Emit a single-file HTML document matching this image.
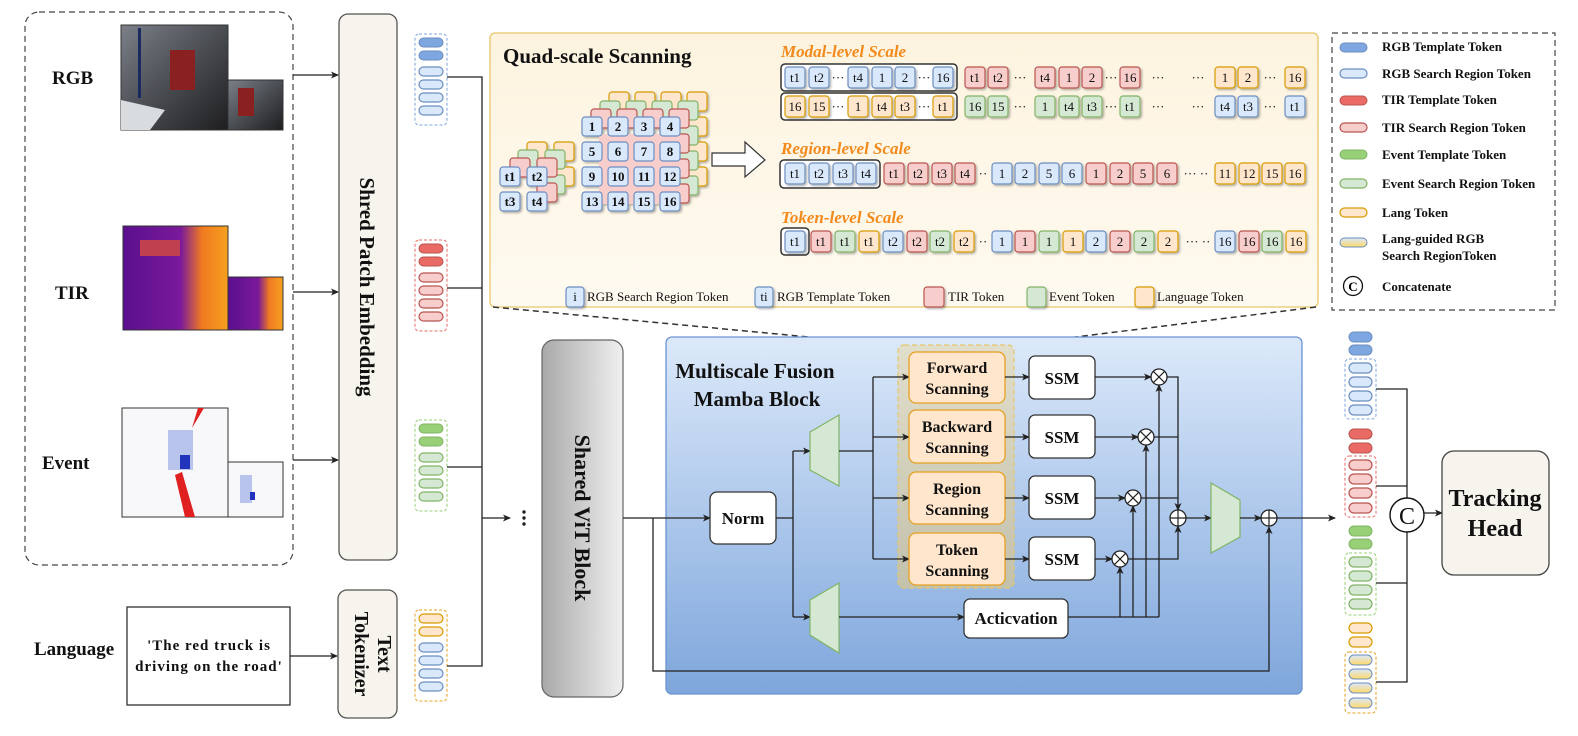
<!DOCTYPE html>
<html><head><meta charset="utf-8"><style>
html,body{margin:0;padding:0;background:#fff}
svg{display:block;font-family:"Liberation Serif",serif}
.b{fill:#dae8fc;stroke:#6c8ebf;stroke-width:1.2}
.r{fill:#f8cecc;stroke:#b85450;stroke-width:1.2}
.g{fill:#d5e8d4;stroke:#82b366;stroke-width:1.2}
.o{fill:#ffe6cc;stroke:#d79b00;stroke-width:1.2}
.bd{fill:#7ea6e0;stroke:#6c8ebf;stroke-width:1}
.rd{fill:#ea6b66;stroke:#b85450;stroke-width:1}
.gd{fill:#97d077;stroke:#82b366;stroke-width:1}
.lg{fill:url(#lgg);stroke:#6c8ebf;stroke-width:1}
.t{font-size:13px;text-anchor:middle;fill:#111}
.ln{stroke:#222;stroke-width:1.3;fill:none}
.bt{font-weight:bold}
.lt{font-size:13px;font-weight:bold;fill:#111}
.sc{font-size:17px;font-weight:bold;font-style:italic;fill:#f28a1c}
.bx{fill:#fff;stroke:#333;stroke-width:1.3}
.sb{font-size:17px;font-weight:bold;text-anchor:middle;fill:#111}
</style></head><body>
<svg width="1578" height="736" viewBox="0 0 1578 736" xmlns="http://www.w3.org/2000/svg">
<defs>
<marker id="ar" markerWidth="8" markerHeight="8" refX="7" refY="4" orient="auto" markerUnits="userSpaceOnUse"><path d="M0,0.5 L8,4 L0,7.5 L2,4z" fill="#222"/></marker>
<linearGradient id="lgg" x1="0" y1="0" x2="0" y2="1"><stop offset="0" stop-color="#dae8fc"/><stop offset="1" stop-color="#ffd966"/></linearGradient>
<linearGradient id="qg" x1="0" y1="0" x2="0" y2="1"><stop offset="0" stop-color="#fdf3df"/><stop offset="1" stop-color="#fffaf0"/></linearGradient>
<linearGradient id="mg" x1="0" y1="0" x2="0" y2="1"><stop offset="0" stop-color="#dce9fa"/><stop offset="1" stop-color="#7ea6dc"/></linearGradient>
<linearGradient id="vg" x1="0" y1="0" x2="1" y2="0"><stop offset="0" stop-color="#a9a9a9"/><stop offset="1" stop-color="#f0f0f0"/></linearGradient>
<linearGradient id="sg" x1="0" y1="0" x2="0" y2="1"><stop offset="0" stop-color="#e2ddc6"/><stop offset="1" stop-color="#c7c2a5"/></linearGradient>
<linearGradient id="rgbI" x1="0" y1="0" x2="1" y2="1"><stop offset="0" stop-color="#7c8088"/><stop offset="0.5" stop-color="#4a4d52"/><stop offset="1" stop-color="#1e1e20"/></linearGradient>
<linearGradient id="tirI" x1="0" y1="0" x2="1" y2="0"><stop offset="0" stop-color="#5a0f8e"/><stop offset="0.55" stop-color="#7a1a9a"/><stop offset="0.75" stop-color="#f07a20"/><stop offset="1" stop-color="#f6a020"/></linearGradient>
<filter id="sh" x="-20%" y="-20%" width="150%" height="150%"><feDropShadow dx="1.5" dy="1.5" stdDeviation="1" flood-opacity="0.3"/></filter>
</defs>

<rect x="25" y="12" width="268" height="553" rx="14" fill="none" stroke="#444" stroke-width="1.2" stroke-dasharray="6,4"/>
<text x="52" y="84" font-size="19" class="bt" fill="#111">RGB</text>
<text x="55" y="299" font-size="19" class="bt" fill="#111">TIR</text>
<text x="42" y="469" font-size="19" class="bt" fill="#111">Event</text>
<text x="34" y="655" font-size="19" class="bt" fill="#111">Language</text>
<rect x="121" y="25" width="107" height="105" fill="url(#rgbI)" stroke="#333"/>
<rect x="170" y="50" width="25" height="40" fill="#8a2020"/><rect x="138" y="28" width="3" height="70" fill="#1a2a60"/>
<path d="M121,100 L165,110 L150,130 L121,130z" fill="#d8dcdf"/>
<rect x="228" y="80" width="55" height="50" fill="url(#rgbI)" stroke="#333"/><rect x="238" y="88" width="16" height="28" fill="#8a2020"/>
<rect x="123" y="226" width="105" height="104" fill="url(#tirI)" stroke="#333"/>
<rect x="140" y="240" width="40" height="16" fill="#c04050"/>
<rect x="228" y="277" width="55" height="53" fill="url(#tirI)" stroke="#333"/>
<rect x="122" y="408" width="106" height="109" fill="#f8f8fb" stroke="#333"/>
<rect x="168" y="430" width="25" height="40" fill="#b8c4ec"/><rect x="180" y="455" width="10" height="14" fill="#2233bb"/>
<path d="M175,475 L185,517 L195,517 L182,472z" fill="#e02020"/><path d="M198,408 L204,408 L192,428z" fill="#e02020"/>
<rect x="228" y="462" width="55" height="55" fill="#f8f8fb" stroke="#333"/><rect x="240" y="475" width="12" height="28" fill="#b8c4ec"/><rect x="250" y="492" width="5" height="8" fill="#2233bb"/>
<line x1="293" y1="75" x2="338" y2="75" class="ln" marker-end="url(#ar)"/>
<line x1="293" y1="292" x2="338" y2="292" class="ln" marker-end="url(#ar)"/>
<line x1="293" y1="460" x2="338" y2="460" class="ln" marker-end="url(#ar)"/>
<rect x="339" y="14" width="58" height="546" rx="9" fill="#f6f4ec" stroke="#555" stroke-width="1.3"/>
<text transform="translate(360,287) rotate(90)" font-size="21" class="bt" text-anchor="middle" fill="#111">Shred Patch Embedding</text>
<rect x="127" y="607" width="163" height="98" fill="#fff" stroke="#333" stroke-width="1.3"/>
<text x="209" y="650" font-size="15" class="bt" text-anchor="middle" letter-spacing="1" fill="#111">'The red truck is</text>
<text x="209" y="671" font-size="15" class="bt" text-anchor="middle" letter-spacing="1" fill="#111">driving on the road'</text>
<line x1="290" y1="656" x2="337" y2="656" class="ln" marker-end="url(#ar)"/>
<rect x="338" y="590" width="59" height="128" rx="9" fill="#f6f4ec" stroke="#555" stroke-width="1.3"/>
<text transform="translate(378,654) rotate(90)" font-size="20" class="bt" text-anchor="middle" fill="#111">Text</text>
<text transform="translate(355,654) rotate(90)" font-size="20" class="bt" text-anchor="middle" fill="#111">Tokenizer</text>

<g>
<rect x="415" y="34" width="32" height="91" rx="4" fill="none" stroke="#7ea6e0" stroke-dasharray="3,2"/>
<rect x="419" y="38" width="24" height="9" rx="4.5" class="bd"/><rect x="419" y="51" width="24" height="9" rx="4.5" class="bd"/>
<rect x="419" y="67" width="24" height="9" rx="4.5" class="b"/><rect x="419" y="80" width="24" height="9" rx="4.5" class="b"/><rect x="419" y="93" width="24" height="9" rx="4.5" class="b"/><rect x="419" y="106" width="24" height="9" rx="4.5" class="b"/>
<rect x="415" y="240" width="32" height="91" rx="4" fill="none" stroke="#ea6b66" stroke-dasharray="3,2"/>
<rect x="419" y="244" width="24" height="9" rx="4.5" class="rd"/><rect x="419" y="257" width="24" height="9" rx="4.5" class="rd"/>
<rect x="419" y="273" width="24" height="9" rx="4.5" class="r"/><rect x="419" y="286" width="24" height="9" rx="4.5" class="r"/><rect x="419" y="299" width="24" height="9" rx="4.5" class="r"/><rect x="419" y="312" width="24" height="9" rx="4.5" class="r"/>
<rect x="415" y="420" width="32" height="91" rx="4" fill="none" stroke="#97d077" stroke-dasharray="3,2"/>
<rect x="419" y="424" width="24" height="9" rx="4.5" class="gd"/><rect x="419" y="437" width="24" height="9" rx="4.5" class="gd"/>
<rect x="419" y="453" width="24" height="9" rx="4.5" class="g"/><rect x="419" y="466" width="24" height="9" rx="4.5" class="g"/><rect x="419" y="479" width="24" height="9" rx="4.5" class="g"/><rect x="419" y="492" width="24" height="9" rx="4.5" class="g"/>
<rect x="415" y="610" width="32" height="91" rx="4" fill="none" stroke="#e8a020" stroke-dasharray="3,2"/>
<rect x="419" y="614" width="24" height="9" rx="4.5" class="o"/><rect x="419" y="627" width="24" height="9" rx="4.5" class="o"/>
<rect x="419" y="643" width="24" height="9" rx="4.5" class="b"/><rect x="419" y="656" width="24" height="9" rx="4.5" class="b"/><rect x="419" y="669" width="24" height="9" rx="4.5" class="b"/><rect x="419" y="682" width="24" height="9" rx="4.5" class="b"/>
</g>
<polyline points="447,77 482,77 482,666 447,666" class="ln"/>
<line x1="447" y1="288" x2="482" y2="288" class="ln"/>
<line x1="447" y1="467" x2="482" y2="467" class="ln"/>
<line x1="482" y1="518" x2="510" y2="518" class="ln" marker-end="url(#ar)"/>
<circle cx="524" cy="512" r="1.7" fill="#222"/><circle cx="524" cy="518" r="1.7" fill="#222"/><circle cx="524" cy="524" r="1.7" fill="#222"/>

<rect x="490" y="33" width="828" height="274" rx="5" fill="url(#qg)" stroke="#e8c66a" stroke-width="1.3"/>
<line x1="493" y1="307" x2="893" y2="345" stroke="#333" stroke-width="1.5" stroke-dasharray="6,4"/>
<line x1="1316" y1="307" x2="1012" y2="345" stroke="#333" stroke-width="1.5" stroke-dasharray="6,4"/>
<text x="503" y="63" font-size="21" class="bt" fill="#111">Quad-scale Scanning</text>

<g filter="url(#sh)">
<g transform="translate(27,-25)"><rect x="582" y="117" width="20" height="19" rx="3" class="o"/><rect x="608" y="117" width="20" height="19" rx="3" class="o"/><rect x="634" y="117" width="20" height="19" rx="3" class="o"/><rect x="660" y="117" width="20" height="19" rx="3" class="o"/><rect x="660" y="142" width="20" height="19" rx="3" class="o"/><rect x="660" y="167" width="20" height="19" rx="3" class="o"/><rect x="660" y="192" width="20" height="19" rx="3" class="o"/></g>
<g transform="translate(18,-16)"><rect x="582" y="117" width="20" height="19" rx="3" class="g"/><rect x="608" y="117" width="20" height="19" rx="3" class="g"/><rect x="634" y="117" width="20" height="19" rx="3" class="g"/><rect x="660" y="117" width="20" height="19" rx="3" class="g"/><rect x="660" y="142" width="20" height="19" rx="3" class="g"/><rect x="660" y="167" width="20" height="19" rx="3" class="g"/><rect x="660" y="192" width="20" height="19" rx="3" class="g"/></g>
<g transform="translate(9,-8)"><rect x="582" y="117" width="20" height="19" rx="3" class="r"/><rect x="608" y="117" width="20" height="19" rx="3" class="r"/><rect x="634" y="117" width="20" height="19" rx="3" class="r"/><rect x="660" y="117" width="20" height="19" rx="3" class="r"/><rect x="660" y="142" width="20" height="19" rx="3" class="r"/><rect x="660" y="167" width="20" height="19" rx="3" class="r"/><rect x="660" y="192" width="20" height="19" rx="3" class="r"/><rect x="590" y="142" width="80" height="70" fill="#f8cecc"/></g>
<rect x="582" y="117" width="20" height="19" rx="3" class="b"/><rect x="608" y="117" width="20" height="19" rx="3" class="b"/><rect x="634" y="117" width="20" height="19" rx="3" class="b"/><rect x="660" y="117" width="20" height="19" rx="3" class="b"/>
<rect x="582" y="142" width="20" height="19" rx="3" class="b"/><rect x="608" y="142" width="20" height="19" rx="3" class="b"/><rect x="634" y="142" width="20" height="19" rx="3" class="b"/><rect x="660" y="142" width="20" height="19" rx="3" class="b"/>
<rect x="582" y="167" width="20" height="19" rx="3" class="b"/><rect x="608" y="167" width="20" height="19" rx="3" class="b"/><rect x="634" y="167" width="20" height="19" rx="3" class="b"/><rect x="660" y="167" width="20" height="19" rx="3" class="b"/>
<rect x="582" y="192" width="20" height="19" rx="3" class="b"/><rect x="608" y="192" width="20" height="19" rx="3" class="b"/><rect x="634" y="192" width="20" height="19" rx="3" class="b"/><rect x="660" y="192" width="20" height="19" rx="3" class="b"/>
</g>
<g font-weight="bold">
<text x="592" y="131" class="t">1</text><text x="618" y="131" class="t">2</text><text x="644" y="131" class="t">3</text><text x="670" y="131" class="t">4</text>
<text x="592" y="156" class="t">5</text><text x="618" y="156" class="t">6</text><text x="644" y="156" class="t">7</text><text x="670" y="156" class="t">8</text>
<text x="592" y="181" class="t">9</text><text x="618" y="181" class="t">10</text><text x="644" y="181" class="t">11</text><text x="670" y="181" class="t">12</text>
<text x="592" y="206" class="t">13</text><text x="618" y="206" class="t">14</text><text x="644" y="206" class="t">15</text><text x="670" y="206" class="t">16</text>
</g>
<g filter="url(#sh)">
<rect x="527" y="142" width="20" height="19" rx="3" class="o"/><rect x="554" y="142" width="20" height="19" rx="3" class="o"/><rect x="554" y="167" width="20" height="19" rx="3" class="o"/>
<rect x="518" y="150" width="20" height="19" rx="3" class="g"/><rect x="545" y="150" width="20" height="19" rx="3" class="g"/><rect x="545" y="175" width="20" height="19" rx="3" class="g"/>
<rect x="510" y="158" width="20" height="19" rx="3" class="r"/><rect x="537" y="158" width="20" height="19" rx="3" class="r"/><rect x="537" y="183" width="20" height="19" rx="3" class="r"/>
<rect x="500" y="167" width="20" height="19" rx="3" class="b"/><rect x="527" y="167" width="20" height="19" rx="3" class="b"/>
<rect x="500" y="192" width="20" height="19" rx="3" class="b"/><rect x="527" y="192" width="20" height="19" rx="3" class="b"/>
</g>
<g font-weight="bold"><text x="510" y="181" class="t">t1</text><text x="537" y="181" class="t">t2</text><text x="510" y="206" class="t">t3</text><text x="537" y="206" class="t">t4</text></g>
<path d="M712,153 L745,153 L745,142 L765,160 L745,177 L745,166 L712,166z" fill="#fff" stroke="#333" stroke-width="1.2"/>

<text x="781" y="57" class="sc">Modal-level Scale</text>
<text x="781" y="154" class="sc">Region-level Scale</text>
<text x="781" y="223" class="sc">Token-level Scale</text>

<rect x="781" y="64" width="176" height="27" rx="4" fill="#fff" stroke="#333" stroke-width="1.5"/>
<g filter="url(#sh)">
<rect x="785" y="67" width="20" height="21" rx="3" class="b"/><rect x="809" y="67" width="20" height="21" rx="3" class="b"/><rect x="848" y="67" width="20" height="21" rx="3" class="b"/><rect x="872" y="67" width="20" height="21" rx="3" class="b"/><rect x="895" y="67" width="20" height="21" rx="3" class="b"/><rect x="933" y="67" width="20" height="21" rx="3" class="b"/>
<rect x="965" y="67" width="20" height="21" rx="3" class="r"/><rect x="988" y="67" width="20" height="21" rx="3" class="r"/><rect x="1035" y="67" width="20" height="21" rx="3" class="r"/><rect x="1059" y="67" width="20" height="21" rx="3" class="r"/><rect x="1082" y="67" width="20" height="21" rx="3" class="r"/><rect x="1120" y="67" width="20" height="21" rx="3" class="r"/>
<rect x="1215" y="67" width="20" height="21" rx="3" class="o"/><rect x="1238" y="67" width="20" height="21" rx="3" class="o"/><rect x="1285" y="67" width="20" height="21" rx="3" class="o"/>
</g>
<g>
<text x="795" y="82" class="t">t1</text><text x="819" y="82" class="t">t2</text><text x="838" y="82" class="t">···</text><text x="858" y="82" class="t">t4</text><text x="882" y="82" class="t">1</text><text x="905" y="82" class="t">2</text><text x="924" y="82" class="t">···</text><text x="943" y="82" class="t">16</text>
<text x="975" y="82" class="t">t1</text><text x="998" y="82" class="t">t2</text><text x="1020" y="82" class="t">···</text><text x="1045" y="82" class="t">t4</text><text x="1069" y="82" class="t">1</text><text x="1092" y="82" class="t">2</text><text x="1111" y="82" class="t">···</text><text x="1130" y="82" class="t">16</text>
<text x="1158" y="82" class="t">···</text><text x="1198" y="82" class="t">···</text>
<text x="1225" y="82" class="t">1</text><text x="1248" y="82" class="t">2</text><text x="1270" y="82" class="t">···</text><text x="1295" y="82" class="t">16</text>
</g>
<rect x="781" y="93" width="176" height="27" rx="4" fill="#fff" stroke="#333" stroke-width="1.5"/>
<g filter="url(#sh)">
<rect x="785" y="96" width="20" height="21" rx="3" class="o"/><rect x="809" y="96" width="20" height="21" rx="3" class="o"/><rect x="848" y="96" width="20" height="21" rx="3" class="o"/><rect x="872" y="96" width="20" height="21" rx="3" class="o"/><rect x="895" y="96" width="20" height="21" rx="3" class="o"/><rect x="933" y="96" width="20" height="21" rx="3" class="o"/>
<rect x="965" y="96" width="20" height="21" rx="3" class="g"/><rect x="988" y="96" width="20" height="21" rx="3" class="g"/><rect x="1035" y="96" width="20" height="21" rx="3" class="g"/><rect x="1059" y="96" width="20" height="21" rx="3" class="g"/><rect x="1082" y="96" width="20" height="21" rx="3" class="g"/><rect x="1120" y="96" width="20" height="21" rx="3" class="g"/>
<rect x="1215" y="96" width="20" height="21" rx="3" class="b"/><rect x="1238" y="96" width="20" height="21" rx="3" class="b"/><rect x="1285" y="96" width="20" height="21" rx="3" class="b"/>
</g>
<g>
<text x="795" y="111" class="t">16</text><text x="819" y="111" class="t">15</text><text x="838" y="111" class="t">···</text><text x="858" y="111" class="t">1</text><text x="882" y="111" class="t">t4</text><text x="905" y="111" class="t">t3</text><text x="924" y="111" class="t">···</text><text x="943" y="111" class="t">t1</text>
<text x="975" y="111" class="t">16</text><text x="998" y="111" class="t">15</text><text x="1020" y="111" class="t">···</text><text x="1045" y="111" class="t">1</text><text x="1069" y="111" class="t">t4</text><text x="1092" y="111" class="t">t3</text><text x="1111" y="111" class="t">···</text><text x="1130" y="111" class="t">t1</text>
<text x="1158" y="111" class="t">···</text><text x="1198" y="111" class="t">···</text>
<text x="1225" y="111" class="t">t4</text><text x="1248" y="111" class="t">t3</text><text x="1270" y="111" class="t">···</text><text x="1295" y="111" class="t">t1</text>
</g>
<rect x="780" y="160" width="100" height="28" rx="4" fill="#fff" stroke="#333" stroke-width="1.5"/>
<g filter="url(#sh)">
<rect x="785" y="163" width="20" height="21" rx="3" class="b"/><rect x="809" y="163" width="20" height="21" rx="3" class="b"/><rect x="833" y="163" width="20" height="21" rx="3" class="b"/><rect x="856" y="163" width="20" height="21" rx="3" class="b"/>
<rect x="884" y="163" width="20" height="21" rx="3" class="r"/><rect x="908" y="163" width="20" height="21" rx="3" class="r"/><rect x="932" y="163" width="20" height="21" rx="3" class="r"/><rect x="955" y="163" width="20" height="21" rx="3" class="r"/>
<rect x="992" y="163" width="20" height="21" rx="3" class="b"/><rect x="1015" y="163" width="20" height="21" rx="3" class="b"/><rect x="1039" y="163" width="20" height="21" rx="3" class="b"/><rect x="1062" y="163" width="20" height="21" rx="3" class="b"/>
<rect x="1086" y="163" width="20" height="21" rx="3" class="r"/><rect x="1110" y="163" width="20" height="21" rx="3" class="r"/><rect x="1133" y="163" width="20" height="21" rx="3" class="r"/><rect x="1157" y="163" width="20" height="21" rx="3" class="r"/>
<rect x="1215" y="163" width="20" height="21" rx="3" class="o"/><rect x="1239" y="163" width="20" height="21" rx="3" class="o"/><rect x="1262" y="163" width="20" height="21" rx="3" class="o"/><rect x="1285" y="163" width="20" height="21" rx="3" class="o"/>
</g>
<g>
<text x="795" y="178" class="t">t1</text><text x="819" y="178" class="t">t2</text><text x="843" y="178" class="t">t3</text><text x="866" y="178" class="t">t4</text>
<text x="894" y="178" class="t">t1</text><text x="918" y="178" class="t">t2</text><text x="942" y="178" class="t">t3</text><text x="965" y="178" class="t">t4</text><text x="983" y="178" class="t">··</text>
<text x="1002" y="178" class="t">1</text><text x="1025" y="178" class="t">2</text><text x="1049" y="178" class="t">5</text><text x="1072" y="178" class="t">6</text>
<text x="1096" y="178" class="t">1</text><text x="1120" y="178" class="t">2</text><text x="1143" y="178" class="t">5</text><text x="1167" y="178" class="t">6</text><text x="1196" y="178" class="t">··· ··</text>
<text x="1225" y="178" class="t">11</text><text x="1249" y="178" class="t">12</text><text x="1272" y="178" class="t">15</text><text x="1295" y="178" class="t">16</text>
</g>
<rect x="781" y="228" width="28" height="27" rx="4" fill="#fff" stroke="#333" stroke-width="1.5"/>
<g filter="url(#sh)">
<rect x="785" y="231" width="20" height="21" rx="3" class="b"/><rect x="811" y="231" width="20" height="21" rx="3" class="r"/><rect x="835" y="231" width="20" height="21" rx="3" class="g"/><rect x="859" y="231" width="20" height="21" rx="3" class="o"/>
<rect x="883" y="231" width="20" height="21" rx="3" class="b"/><rect x="907" y="231" width="20" height="21" rx="3" class="r"/><rect x="930" y="231" width="20" height="21" rx="3" class="g"/><rect x="954" y="231" width="20" height="21" rx="3" class="o"/>
<rect x="992" y="231" width="20" height="21" rx="3" class="b"/><rect x="1015" y="231" width="20" height="21" rx="3" class="r"/><rect x="1039" y="231" width="20" height="21" rx="3" class="g"/><rect x="1063" y="231" width="20" height="21" rx="3" class="o"/>
<rect x="1086" y="231" width="20" height="21" rx="3" class="b"/><rect x="1110" y="231" width="20" height="21" rx="3" class="r"/><rect x="1134" y="231" width="20" height="21" rx="3" class="g"/><rect x="1158" y="231" width="20" height="21" rx="3" class="o"/>
<rect x="1215" y="231" width="20" height="21" rx="3" class="b"/><rect x="1239" y="231" width="20" height="21" rx="3" class="r"/><rect x="1262" y="231" width="20" height="21" rx="3" class="g"/><rect x="1286" y="231" width="20" height="21" rx="3" class="o"/>
</g>
<g>
<text x="795" y="246" class="t">t1</text><text x="821" y="246" class="t">t1</text><text x="845" y="246" class="t">t1</text><text x="869" y="246" class="t">t1</text>
<text x="893" y="246" class="t">t2</text><text x="917" y="246" class="t">t2</text><text x="940" y="246" class="t">t2</text><text x="964" y="246" class="t">t2</text><text x="983" y="246" class="t">··</text>
<text x="1002" y="246" class="t">1</text><text x="1025" y="246" class="t">1</text><text x="1049" y="246" class="t">1</text><text x="1073" y="246" class="t">1</text>
<text x="1096" y="246" class="t">2</text><text x="1120" y="246" class="t">2</text><text x="1144" y="246" class="t">2</text><text x="1168" y="246" class="t">2</text><text x="1198" y="246" class="t">··· ··</text>
<text x="1225" y="246" class="t">16</text><text x="1249" y="246" class="t">16</text><text x="1272" y="246" class="t">16</text><text x="1296" y="246" class="t">16</text>
</g>
<g filter="url(#sh)">
<rect x="566" y="287" width="18" height="20" rx="3" class="b"/><rect x="755" y="287" width="18" height="20" rx="3" class="b"/><rect x="924" y="287" width="20" height="20" rx="3" class="r"/><rect x="1027" y="287" width="19" height="20" rx="3" class="g"/><rect x="1135" y="287" width="19" height="20" rx="3" class="o"/>
</g>
<text x="575" y="301" class="t">i</text><text x="764" y="301" class="t">ti</text>
<text x="587" y="301" font-size="13" fill="#111">RGB Search Region Token</text>
<text x="777" y="301" font-size="13" fill="#111">RGB Template Token</text>
<text x="948" y="301" font-size="13" fill="#111">TIR Token</text>
<text x="1049" y="301" font-size="13" fill="#111">Event Token</text>
<text x="1157" y="301" font-size="13" fill="#111">Language Token</text>

<rect x="1332" y="33" width="223" height="277" fill="#fff" stroke="#444" stroke-width="1.2" stroke-dasharray="6,4"/>
<rect x="1340" y="43" width="27" height="9" rx="4.5" class="bd"/><text x="1382" y="51" class="lt">RGB Template Token</text>
<rect x="1340" y="69" width="27" height="9" rx="4.5" class="b"/><text x="1382" y="78" class="lt">RGB Search Region Token</text>
<rect x="1340" y="96" width="27" height="9" rx="4.5" class="rd"/><text x="1382" y="104" class="lt">TIR Template Token</text>
<rect x="1340" y="123" width="27" height="9" rx="4.5" class="r"/><text x="1382" y="132" class="lt">TIR Search Region Token</text>
<rect x="1340" y="150" width="27" height="9" rx="4.5" class="gd"/><text x="1382" y="159" class="lt">Event Template Token</text>
<rect x="1340" y="179" width="27" height="9" rx="4.5" class="g"/><text x="1382" y="188" class="lt">Event Search Region Token</text>
<rect x="1340" y="208" width="27" height="9" rx="4.5" class="o"/><text x="1382" y="217" class="lt">Lang Token</text>
<rect x="1340" y="238" width="27" height="9" rx="4.5" class="lg"/><text x="1382" y="243" class="lt">Lang-guided RGB</text><text x="1382" y="260" class="lt">Search RegionToken</text>
<circle cx="1353" cy="286" r="9.5" fill="#fff" stroke="#111" stroke-width="1.3"/><text x="1353" y="291" font-size="13" class="bt" text-anchor="middle">C</text><text x="1382" y="291" class="lt">Concatenate</text>

<rect x="542" y="340" width="81" height="357" rx="12" fill="url(#vg)" stroke="#666" stroke-width="1.2"/>
<text transform="translate(575,518) rotate(90)" font-size="22" class="bt" text-anchor="middle" fill="#111">Shared  ViT  Block</text>

<rect x="666" y="337" width="636" height="357" rx="6" fill="url(#mg)" stroke="#6a95d0" stroke-width="1.3"/>
<text x="755" y="378" font-size="21" class="bt" text-anchor="middle" fill="#111">Multiscale Fusion</text>
<text x="757" y="406" font-size="21" class="bt" text-anchor="middle" fill="#111">Mamba Block</text>
<rect x="898" y="345" width="116" height="243" rx="6" fill="url(#sg)" fill-opacity="0.9" stroke="#e8c66a" stroke-dasharray="5,3" stroke-width="1.2"/>

<line x1="623" y1="518" x2="710" y2="518" class="ln" marker-end="url(#ar)"/>
<polyline points="653,518 653,671 1269,671 1269,527" class="ln" marker-end="url(#ar)"/>
<rect x="710" y="492" width="66" height="52" rx="7" class="bx"/><text x="743" y="524" class="sb">Norm</text>
<polyline points="776,518 793,518" class="ln"/>
<line x1="793" y1="451" x2="793" y2="617" class="ln"/>
<line x1="793" y1="451" x2="810" y2="451" class="ln" marker-end="url(#ar)"/>
<line x1="793" y1="617" x2="810" y2="617" class="ln" marker-end="url(#ar)"/>
<polygon points="810,432 839,415 839,486 810,470" fill="#d5e8d4" stroke="#82b366" stroke-width="1.2"/>
<polygon points="810,600 839,583 839,653 810,635" fill="#d5e8d4" stroke="#82b366" stroke-width="1.2"/>
<line x1="839" y1="451" x2="873" y2="451" class="ln"/>
<line x1="873" y1="377" x2="873" y2="559" class="ln"/>
<line x1="873" y1="377" x2="909" y2="377" class="ln" marker-end="url(#ar)"/>
<line x1="873" y1="437" x2="909" y2="437" class="ln" marker-end="url(#ar)"/>
<line x1="873" y1="498" x2="909" y2="498" class="ln" marker-end="url(#ar)"/>
<line x1="873" y1="559" x2="909" y2="559" class="ln" marker-end="url(#ar)"/>
<line x1="839" y1="617" x2="964" y2="617" class="ln" marker-end="url(#ar)"/>

<g font-size="16" class="bt" text-anchor="middle" fill="#111">
<rect x="909" y="352" width="96" height="51" rx="7" fill="#ffe6cc" stroke="#e8a020" stroke-width="1.3"/><text x="957" y="373">Forward</text><text x="957" y="394">Scanning</text>
<rect x="909" y="410" width="96" height="53" rx="7" fill="#ffe6cc" stroke="#e8a020" stroke-width="1.3"/><text x="957" y="432">Backward</text><text x="957" y="453">Scanning</text>
<rect x="909" y="472" width="96" height="52" rx="7" fill="#ffe6cc" stroke="#e8a020" stroke-width="1.3"/><text x="957" y="494">Region</text><text x="957" y="515">Scanning</text>
<rect x="909" y="533" width="96" height="52" rx="7" fill="#ffe6cc" stroke="#e8a020" stroke-width="1.3"/><text x="957" y="555">Token</text><text x="957" y="576">Scanning</text>
</g>
<line x1="1005" y1="377" x2="1029" y2="377" class="ln" marker-end="url(#ar)"/>
<line x1="1005" y1="437" x2="1029" y2="437" class="ln" marker-end="url(#ar)"/>
<line x1="1005" y1="498" x2="1029" y2="498" class="ln" marker-end="url(#ar)"/>
<line x1="1005" y1="559" x2="1029" y2="559" class="ln" marker-end="url(#ar)"/>
<rect x="1029" y="356" width="66" height="43" rx="6" class="bx"/><text x="1062" y="384" class="sb">SSM</text>
<rect x="1029" y="415" width="66" height="43" rx="6" class="bx"/><text x="1062" y="443" class="sb">SSM</text>
<rect x="1029" y="476" width="66" height="43" rx="6" class="bx"/><text x="1062" y="504" class="sb">SSM</text>
<rect x="1029" y="537" width="66" height="43" rx="6" class="bx"/><text x="1062" y="565" class="sb">SSM</text>
<rect x="964" y="599" width="104" height="39" rx="6" class="bx"/><text x="1016" y="624" class="sb">Acticvation</text>

<line x1="1095" y1="377" x2="1151" y2="377" class="ln" marker-end="url(#ar)"/>
<line x1="1095" y1="437" x2="1138" y2="437" class="ln" marker-end="url(#ar)"/>
<line x1="1095" y1="498" x2="1125" y2="498" class="ln" marker-end="url(#ar)"/>
<line x1="1095" y1="559" x2="1112" y2="559" class="ln" marker-end="url(#ar)"/>
<polyline points="1068,617 1159,617" class="ln"/>
<line x1="1120" y1="617" x2="1120" y2="567" class="ln" marker-end="url(#ar)"/>
<line x1="1133" y1="617" x2="1133" y2="506" class="ln" marker-end="url(#ar)"/>
<line x1="1146" y1="617" x2="1146" y2="445" class="ln" marker-end="url(#ar)"/>
<line x1="1159" y1="617" x2="1159" y2="385" class="ln" marker-end="url(#ar)"/>
<polyline points="1167,377 1178,377 1178,510" class="ln" marker-end="url(#ar)"/>
<line x1="1154" y1="437" x2="1178" y2="437" class="ln"/>
<line x1="1141" y1="498" x2="1178" y2="498" class="ln"/>
<polyline points="1128,559 1178,559 1178,526" class="ln" marker-end="url(#ar)"/>
<g fill="#fff" stroke="#222" stroke-width="1.3">
<circle cx="1159" cy="377" r="8"/><circle cx="1146" cy="437" r="8"/><circle cx="1133" cy="498" r="8"/><circle cx="1120" cy="559" r="8"/>
<circle cx="1178" cy="518" r="8"/><circle cx="1269" cy="518" r="8"/>
</g>
<g stroke="#222" stroke-width="1.2">
<path d="M1153.3,371.3 L1164.7,382.7 M1164.7,371.3 L1153.3,382.7"/>
<path d="M1140.3,431.3 L1151.7,442.7 M1151.7,431.3 L1140.3,442.7"/>
<path d="M1127.3,492.3 L1138.7,503.7 M1138.7,492.3 L1127.3,503.7"/>
<path d="M1114.3,553.3 L1125.7,564.7 M1125.7,553.3 L1114.3,564.7"/>
<path d="M1170,518 L1186,518 M1178,510 L1178,526"/>
<path d="M1261,518 L1277,518 M1269,510 L1269,526"/>
</g>
<line x1="1186" y1="518" x2="1211" y2="518" class="ln" marker-end="url(#ar)"/>
<polygon points="1211,483 1240,500 1240,537 1211,553" fill="#d5e8d4" stroke="#82b366" stroke-width="1.2"/>
<line x1="1240" y1="518" x2="1261" y2="518" class="ln" marker-end="url(#ar)"/>
<line x1="1277" y1="518" x2="1335" y2="518" class="ln" marker-end="url(#ar)"/>

<g>
<rect x="1349" y="332" width="23" height="10" rx="5" class="bd"/><rect x="1349" y="345" width="23" height="10" rx="5" class="bd"/>
<rect x="1345" y="359" width="31" height="60" rx="4" fill="none" stroke="#7ea6e0" stroke-dasharray="3,2"/>
<rect x="1349" y="363" width="23" height="10" rx="5" class="b"/><rect x="1349" y="377" width="23" height="10" rx="5" class="b"/><rect x="1349" y="391" width="23" height="10" rx="5" class="b"/><rect x="1349" y="405" width="23" height="10" rx="5" class="b"/>
<rect x="1349" y="429" width="23" height="10" rx="5" class="rd"/><rect x="1349" y="443" width="23" height="10" rx="5" class="rd"/>
<rect x="1345" y="456" width="31" height="61" rx="4" fill="none" stroke="#ea6b66" stroke-dasharray="3,2"/>
<rect x="1349" y="460" width="23" height="10" rx="5" class="r"/><rect x="1349" y="474" width="23" height="10" rx="5" class="r"/><rect x="1349" y="488" width="23" height="10" rx="5" class="r"/><rect x="1349" y="503" width="23" height="10" rx="5" class="r"/>
<rect x="1349" y="526" width="23" height="10" rx="5" class="gd"/><rect x="1349" y="539" width="23" height="10" rx="5" class="gd"/>
<rect x="1345" y="553" width="31" height="62" rx="4" fill="none" stroke="#97d077" stroke-dasharray="3,2"/>
<rect x="1349" y="557" width="23" height="10" rx="5" class="g"/><rect x="1349" y="571" width="23" height="10" rx="5" class="g"/><rect x="1349" y="585" width="23" height="10" rx="5" class="g"/><rect x="1349" y="599" width="23" height="10" rx="5" class="g"/>
<rect x="1349" y="623" width="23" height="10" rx="5" class="o"/><rect x="1349" y="637" width="23" height="10" rx="5" class="o"/>
<rect x="1345" y="652" width="31" height="61" rx="4" fill="none" stroke="#e8a020" stroke-dasharray="3,2"/>
<rect x="1349" y="655" width="23" height="10" rx="5" class="lg"/><rect x="1349" y="669" width="23" height="10" rx="5" class="lg"/><rect x="1349" y="683" width="23" height="10" rx="5" class="lg"/><rect x="1349" y="698" width="23" height="10" rx="5" class="lg"/>
</g>
<polyline points="1376,389 1407,389 1407,682 1376,682" class="ln"/>
<line x1="1376" y1="486" x2="1407" y2="486" class="ln"/>
<line x1="1376" y1="583" x2="1407" y2="583" class="ln"/>
<circle cx="1407" cy="515" r="17" fill="#fff" stroke="#111" stroke-width="1.4"/>
<text x="1407" y="524" font-size="24" text-anchor="middle" fill="#111">C</text>
<line x1="1424" y1="513" x2="1442" y2="513" class="ln" marker-end="url(#ar)"/>
<rect x="1442" y="451" width="107" height="124" rx="12" fill="#f6f4ec" stroke="#444" stroke-width="1.3"/>
<text x="1495" y="506" font-size="24" class="bt" text-anchor="middle" fill="#111">Tracking</text>
<text x="1495" y="536" font-size="24" class="bt" text-anchor="middle" fill="#111">Head</text>
</svg>
</body></html>
